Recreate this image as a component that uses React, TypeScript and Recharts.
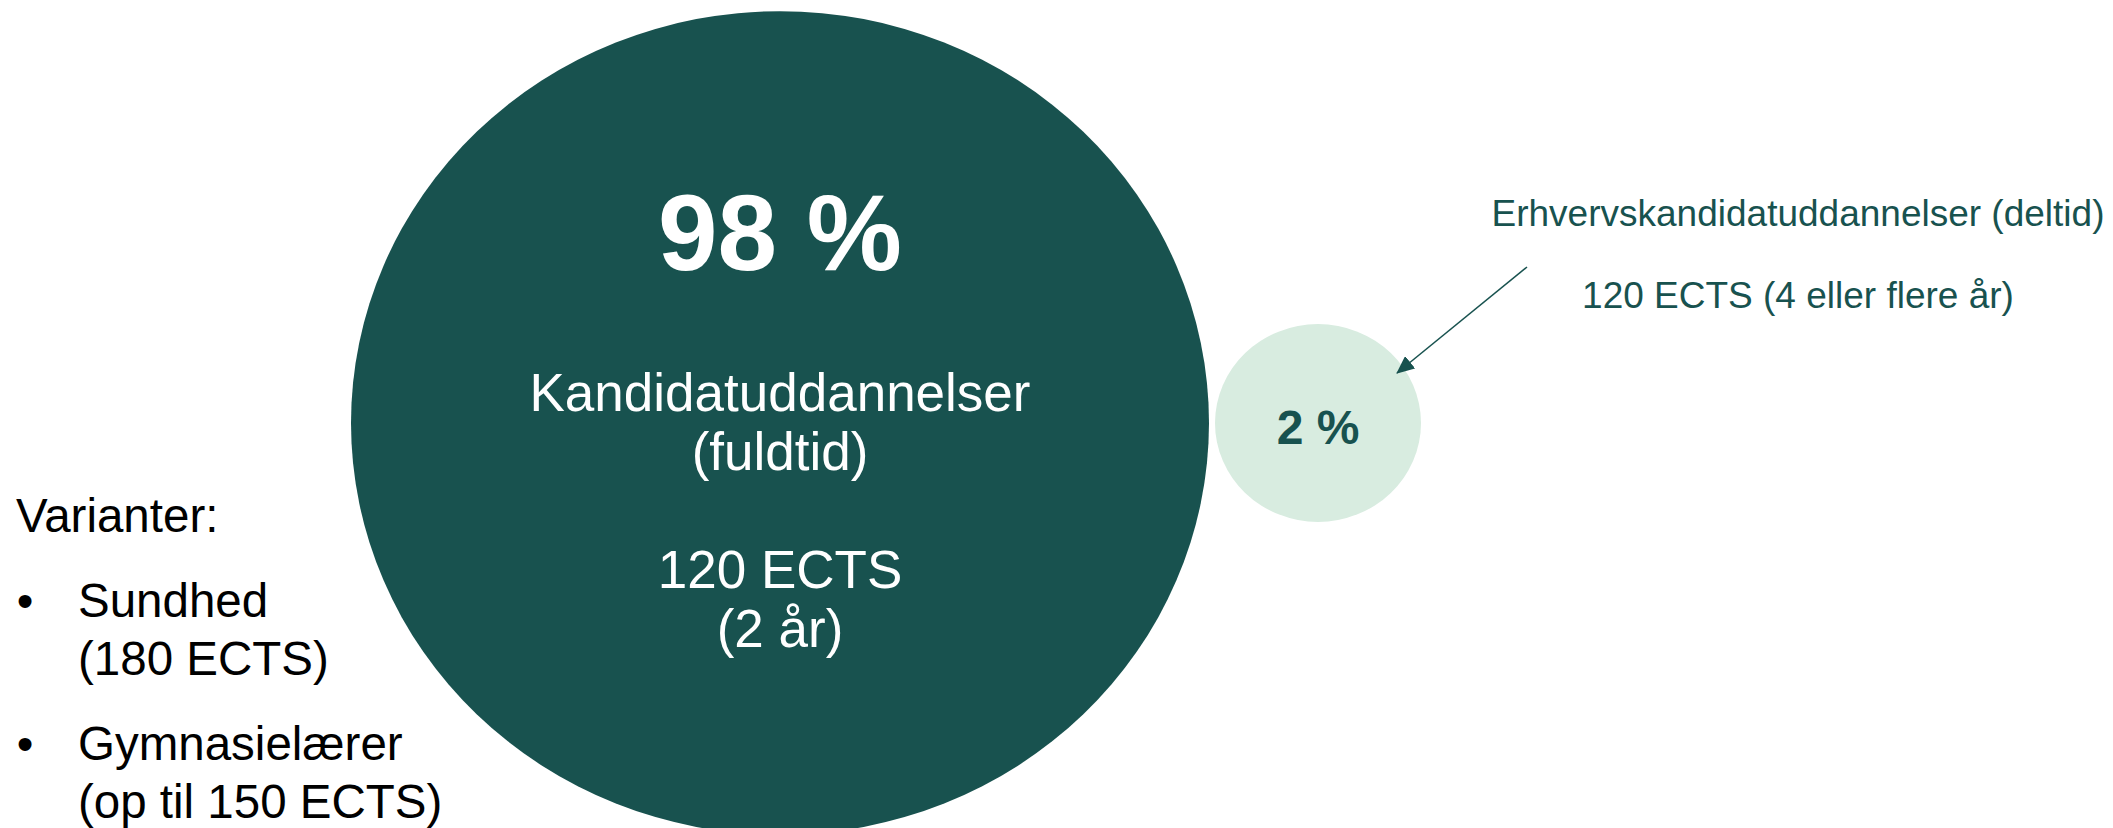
import { Scatter, ScatterChart, XAxis, YAxis, ZAxis } from "recharts";

// bubble data
const shares = [98, 2];
const slots = [1, 2];
const headlines = ["98 %", "2 %"];
const bodyLines = [
  ["Kandidatuddannelser", "(fuldtid)", "", "120 ECTS", "(2 år)"],
  [],
];

// annotation texts
const calloutLines = [
  "Erhvervskandidatuddannelser (deltid)",
  "120 ECTS (4 eller flere år)",
];
const variantTitle = "Varianter:";
const variants = [
  ["Sundhed", "(180 ECTS)"],
  ["Gymnasielærer", "(op til 150 ECTS)"],
];

const DARK = "#18524F";
const LIGHT = "#D8ECE0";
const FONT = "'Liberation Sans', Arial, Helvetica, sans-serif";

const bubbles = shares.map((share, i) => ({
  slot: slots[i],
  level: 0,
  share,
  headline: headlines[i],
  lines: bodyLines[i],
}));

function Bubble(props: any) {
  const { cx, cy, width, size, payload } = props;
  const r = width ? width / 2 : Math.sqrt(size / Math.PI);
  const big = payload.share > 50;
  return (
    <g fontFamily={FONT}>
      <ellipse cx={cx} cy={cy} rx={r} ry={r * 0.96} fill={big ? DARK : LIGHT} />
      <text
        x={cx}
        y={cy + (big ? -153 : 21)}
        textAnchor="middle"
        fontWeight="bold"
        fontSize={big ? 107 : 48}
        fill={big ? "#fff" : DARK}
      >
        {payload.headline}
      </text>
      {payload.lines.map((t: string, j: number) => (
        <text
          key={j}
          x={cx}
          y={cy - 12 + j * 59}
          textAnchor="middle"
          fontSize={53}
          fill="#fff"
        >
          {t}
        </text>
      ))}
    </g>
  );
}

export default function App() {
  return (
    <div
      style={{
        position: "absolute",
        left: 0,
        top: 0,
        width: 2113,
        height: 828,
        background: "#fff",
        overflow: "hidden",
      }}
    >
      <ScatterChart
        width={2113}
        height={828}
        margin={{ top: 18, right: 257, bottom: 0, left: 242 }}
      >
        <XAxis type="number" dataKey="slot" domain={[0, 3]} hide />
        <YAxis type="number" dataKey="level" domain={[-1, 1]} hide />
        <ZAxis
          type="number"
          dataKey="share"
          domain={[2, 98]}
          range={[Math.PI * 103 * 103, Math.PI * 429 * 429]}
        />
        <Scatter data={bubbles} shape={Bubble} isAnimationActive={false} />
      </ScatterChart>

      <svg
        width={2113}
        height={828}
        style={{ position: "absolute", left: 0, top: 0, pointerEvents: "none" }}
        fontFamily={FONT}
      >
        <defs>
          <marker
            id="head"
            markerUnits="userSpaceOnUse"
            markerWidth={18}
            markerHeight={16}
            refX={17}
            refY={8}
            orient="auto"
          >
            <path d="M0,0 L18,8 L0,16 Z" fill={DARK} />
          </marker>
        </defs>
        <line
          x1={1527}
          y1={267}
          x2={1397}
          y2={373}
          stroke={DARK}
          strokeWidth={1.5}
          markerEnd="url(#head)"
        />
        {calloutLines.map((t, i) => (
          <text
            key={t}
            x={1798}
            y={226 + i * 82}
            textAnchor="middle"
            fontSize={37}
            fill={DARK}
          >
            {t}
          </text>
        ))}

        <text x={16} y={532} fontSize={47.5} fill="#000">
          {variantTitle}
        </text>
        {variants.map((v, i) => (
          <g key={v[0]}>
            <text x={25} y={617 + i * 143} fontSize={47.5} textAnchor="middle" fill="#000">
              •
            </text>
            {v.map((t, j) => (
              <text key={t} x={78} y={617 + i * 143 + j * 58} fontSize={47.5} fill="#000">
                {t}
              </text>
            ))}
          </g>
        ))}
      </svg>
    </div>
  );
}
